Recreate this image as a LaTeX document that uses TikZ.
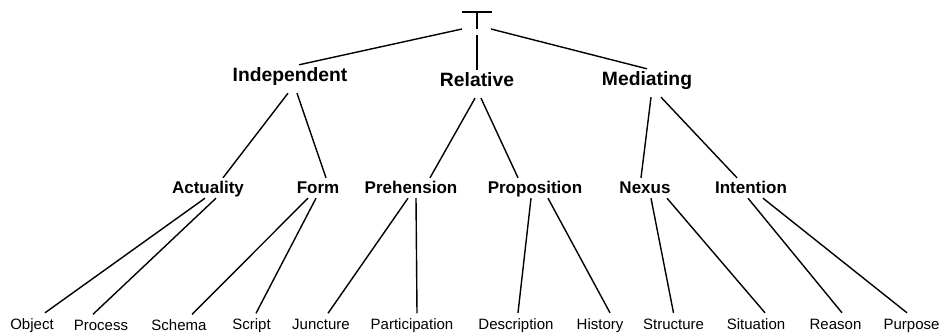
\documentclass[tikz,border=0pt]{standalone}
\usepackage{fontspec}
\setmainfont{Liberation Sans}
\usetikzlibrary{calc}

\tikzset{
  lvlone/.style={font=\fontsize{19.3}{20}\selectfont\bfseries, inner sep=0pt, text height=16pt, text depth=12pt, anchor=base},
  lvltwo/.style={font=\fontsize{17}{18}\selectfont\bfseries, inner sep=0pt, text height=15pt, text depth=5pt, anchor=base},
  leaf/.style={font=\fontsize{15}{16}\selectfont, inner sep=0pt, text height=16pt, text depth=0pt, anchor=base},
  link/.style={line width=1.4pt}
}

\begin{document}
\begin{tikzpicture}[x=1pt, y=-1pt]
		\useasboundingbox (0,0) rectangle (944,333);

		% Top
		\coordinate (root) at (477,12);
		\draw[line width=2pt] ([xshift=-15pt]root) -- ([xshift=15pt]root);
		\draw[link] (root) -- ([yshift=-17pt]root);

		% Level 1
		\node[lvlone] (ind) at (290,81) {Independent};
		\node[lvlone] (rel) at (477,86) {Relative};
		\node[lvlone] (med) at (647,85) {Mediating};

		% Level 2
		\node[lvltwo] (act) at (208,193) {Actuality};
		\node[lvltwo] (form) at (318,193) {Form};
		\node[lvltwo] (preh) at (411,193) {Prehension};
		\node[lvltwo] (prop) at (535,193) {Proposition};
		\node[lvltwo] (nex) at (645,193) {Nexus};
		\node[lvltwo] (inten) at (751,193) {Intention};

		% Leaves
		\node[leaf] (obj) at (32,329) {Object};
		\node[leaf] (proc) at (101,330.5) {Process};
		\node[leaf] (sch) at (179,330.5) {Schema};
		\node[leaf] (scr) at (251.5,329.5) {Script};
		\node[leaf] (junc) at (321,329.5) {Juncture};
		\node[leaf] (part) at (412,329.5) {Participation};
		\node[leaf] (desc) at (516,329) {Description};
		\node[leaf] (hist) at (600,329) {History};
		\node[leaf] (struc) at (673.5,329) {Structure};
		\node[leaf] (sit) at (756,329) {Situation};
		\node[leaf] (reas) at (835.5,329) {Reason};
		\node[leaf] (purp) at (911.5,329) {Purpose};

		% Links from the top
		\draw[link] ([xshift=-15pt,yshift=-17pt]root) -- ([xshift=9pt]ind.north);
		\draw[link] ([yshift=-23pt]root) -- (rel.north);
		\draw[link] ([xshift=14pt,yshift=-17pt]root) -- (med.north);

		% Links to level 2
		\draw[link] ([xshift=-2pt]ind.south) -- ([xshift=15pt]act.north);
		\draw[link] ([xshift=7pt]ind.south) -- ([xshift=8pt]form.north);
		\draw[link] ([xshift=-2pt]rel.south) -- ([xshift=19pt]preh.north);
		\draw[link] ([xshift=4pt]rel.south) -- ([xshift=-17pt]prop.north);
		\draw[link] ([xshift=4pt]med.south) -- ([xshift=-4pt]nex.north);
		\draw[link] ([xshift=14pt]med.south) -- ([xshift=-14pt]inten.north);

		% Links to leaves
		\draw[link] ([xshift=-3pt]act.south) -- ([xshift=13pt]obj.north);
		\draw[link] ([xshift=8pt]act.south) -- ([xshift=-8pt]proc.north);
		\draw[link] ([xshift=-10pt]form.south) -- ([xshift=13pt]sch.north);
		\draw[link] ([xshift=-2pt]form.south) -- ([xshift=4.5pt]scr.north);
		\draw[link] ([xshift=-3pt]preh.south) -- ([xshift=7pt]junc.north);
		\draw[link] ([xshift=5pt]preh.south) -- ([xshift=5pt]part.north);
		\draw[link] ([xshift=-4pt]prop.south) -- ([xshift=2pt]desc.north);
		\draw[link] ([xshift=13pt]prop.south) -- ([xshift=10pt]hist.north);
		\draw[link] ([xshift=6pt]nex.south) -- (struc.north);
		\draw[link] ([xshift=22pt]nex.south) -- ([xshift=9pt]sit.north);
		\draw[link] ([xshift=-3pt]inten.south) -- ([xshift=6.5pt]reas.north);
		\draw[link] ([xshift=12pt]inten.south) -- ([xshift=-4.5pt]purp.north);
	\end{tikzpicture}
\end{document}
